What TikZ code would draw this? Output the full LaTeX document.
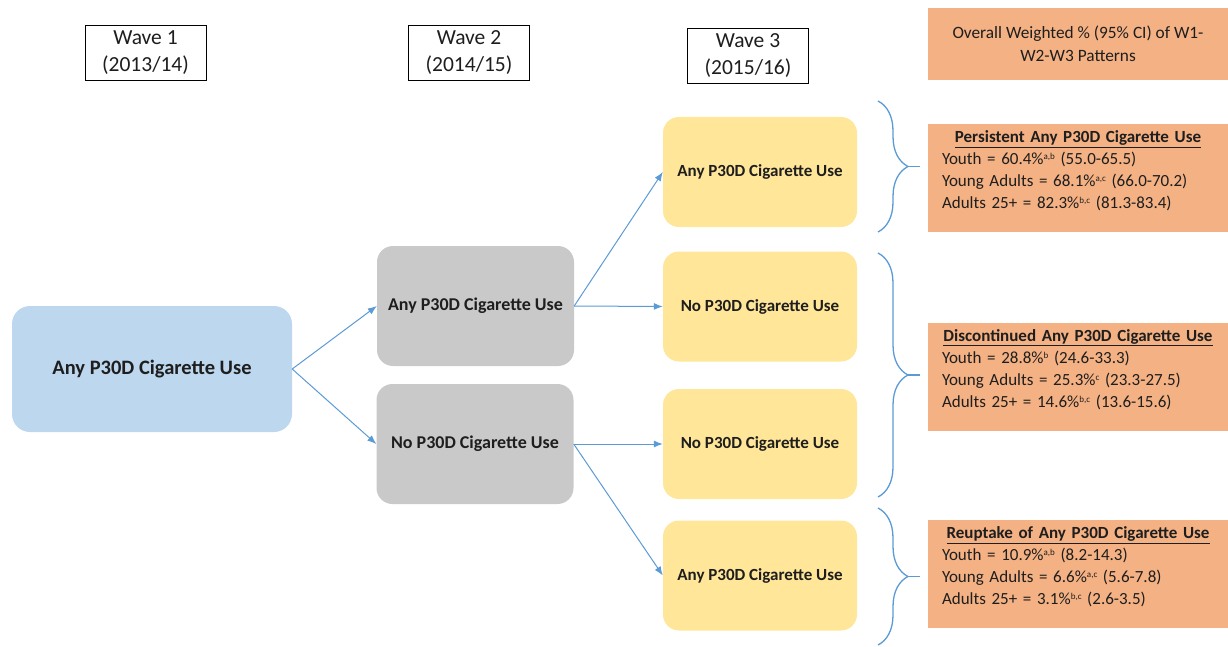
\documentclass[tikz,border=0pt]{standalone}
\usepackage{fontspec}
\setmainfont{Carlito}
\usetikzlibrary{arrows.meta,decorations.pathreplacing}
\definecolor{w1blue}{HTML}{BDD7EE}
\definecolor{w2gray}{HTML}{C9C9C9}
\definecolor{w3yellow}{HTML}{FFE699}
\definecolor{pctorange}{HTML}{F4B183}
\definecolor{linkblue}{HTML}{5B9BD5}
\definecolor{ink}{HTML}{1E1E1E}
\newcommand{\pcttitle}[1]{\hfill\underline{\textbf{#1}}\hfill\null\\}
\newcommand{\sig}[1]{\raisebox{0.6ex}{\fontsize{9}{9}\selectfont #1}}
\begin{document}
\begin{tikzpicture}[x=1pt, y=-1pt, text=ink,
    wave/.style={draw=black, line width=0.8pt, fill=white, align=center, minimum width=121pt, minimum height=55pt, inner sep=0pt, font=\fontsize{21.5}{27}\selectfont},
    start/.style={rounded corners=18pt, fill=w1blue, minimum width=280pt, minimum height=126pt, font=\bfseries\fontsize{20.5}{24}\selectfont},
    middle/.style={rounded corners=16pt, fill=w2gray, minimum width=197pt, minimum height=120pt, font=\bfseries\fontsize{18}{22}\selectfont},
    final/.style={rounded corners=16pt, fill=w3yellow, minimum width=194pt, minimum height=110pt, font=\bfseries\fontsize{17}{21}\selectfont},
    pct/.style={fill=pctorange, text width=272pt, inner xsep=14pt, minimum height=108pt, align=left, font=\fontsize{17}{22}\selectfont},
    link/.style={draw=linkblue, line width=1pt, -{Latex[length=9pt,width=7pt]}},
    curly/.style={draw=linkblue, line width=1.3pt, decorate, decoration={brace, amplitude=30pt}}
  ]
  \useasboundingbox (0,0) rectangle (1228,647);

  % column headings
  \node[wave] (wave1) at (145.5,52.5) {Wave 1\\(2013/14)};
  \node[wave] (wave2) at (469,52.5) {Wave 2\\(2014/15)};
  \node[wave] (wave3) at (748,55.5) {Wave 3\\(2015/16)};
  \node[fill=pctorange, minimum width=300pt, minimum height=72pt, align=center, font=\fontsize{17.3}{23}\selectfont] (head) at (1078,44) {Overall Weighted \% (95\% CI) of W1-\\W2-W3 Patterns};

  % waves
  \node[start] (w1) at (152,369) {Any P30D Cigarette Use};
  \node[middle] (w2any) at (475.5,306) {Any P30D Cigarette Use};
  \node[middle] (w2no) at (475,444) {No P30D Cigarette Use};
  \node[final] (w3a) at (760,172) {Any P30D Cigarette Use};
  \node[final] (w3b) at (760,306.5) {No P30D Cigarette Use};
  \node[final] (w3c) at (760,444) {No P30D Cigarette Use};
  \node[final] (w3d) at (760,575.5) {Any P30D Cigarette Use};

  \draw[link] (w1.east) -- (w2any.west);
  \draw[link] (w1.east) -- (w2no.west);
  \draw[link] (w2any.east) -- (w3a.west);
  \draw[link] (w2any.east) -- (w3b.west);
  \draw[link] (w2no.east) -- (w3c.west);
  \draw[link] (w2no.east) -- (w3d.west);

  % braces
  \coordinate (b1top) at (878,101);  \coordinate (b1bot) at (878,232);
  \coordinate (b2top) at (878,253);  \coordinate (b2bot) at (878,497);
  \coordinate (b3top) at (878,508);  \coordinate (b3bot) at (878,645);
  \draw[curly] (b1top) -- (b1bot);
  \draw[curly] (b2top) -- (b2bot);
  \draw[curly] (b3top) -- (b3bot);
  \draw[linkblue, line width=1.3pt] (907,166.5) -- (920,166.5);
  \draw[linkblue, line width=1.3pt] (907,375) -- (920,375);
  \draw[linkblue, line width=1.3pt] (907,576.5) -- (920,576.5);

  % weighted percentages
  \node[pct] (pers) at (1078,178) {\pcttitle{Persistent Any P30D Cigarette Use}
    Youth = 60.4\%\sig{a,b} (55.0-65.5)\\
    Young Adults = 68.1\%\sig{a,c} (66.0-70.2)\\
    Adults 25+ = 82.3\%\sig{b,c} (81.3-83.4)\par\vspace*{14pt}};
  \node[pct] (disc) at (1078,376.5) {\pcttitle{Discontinued Any P30D Cigarette Use}
    Youth = 28.8\%\sig{b} (24.6-33.3)\\
    Young Adults = 25.3\%\sig{c} (23.3-27.5)\\
    Adults 25+ = 14.6\%\sig{b,c} (13.6-15.6)\par\vspace*{14pt}};
  \node[pct] (reup) at (1078,574) {\pcttitle{Reuptake of Any P30D Cigarette Use}
    Youth = 10.9\%\sig{a,b} (8.2-14.3)\\
    Young Adults = 6.6\%\sig{a,c} (5.6-7.8)\\
    Adults 25+ = 3.1\%\sig{b,c} (2.6-3.5)\par\vspace*{14pt}};
\end{tikzpicture}
\end{document}
